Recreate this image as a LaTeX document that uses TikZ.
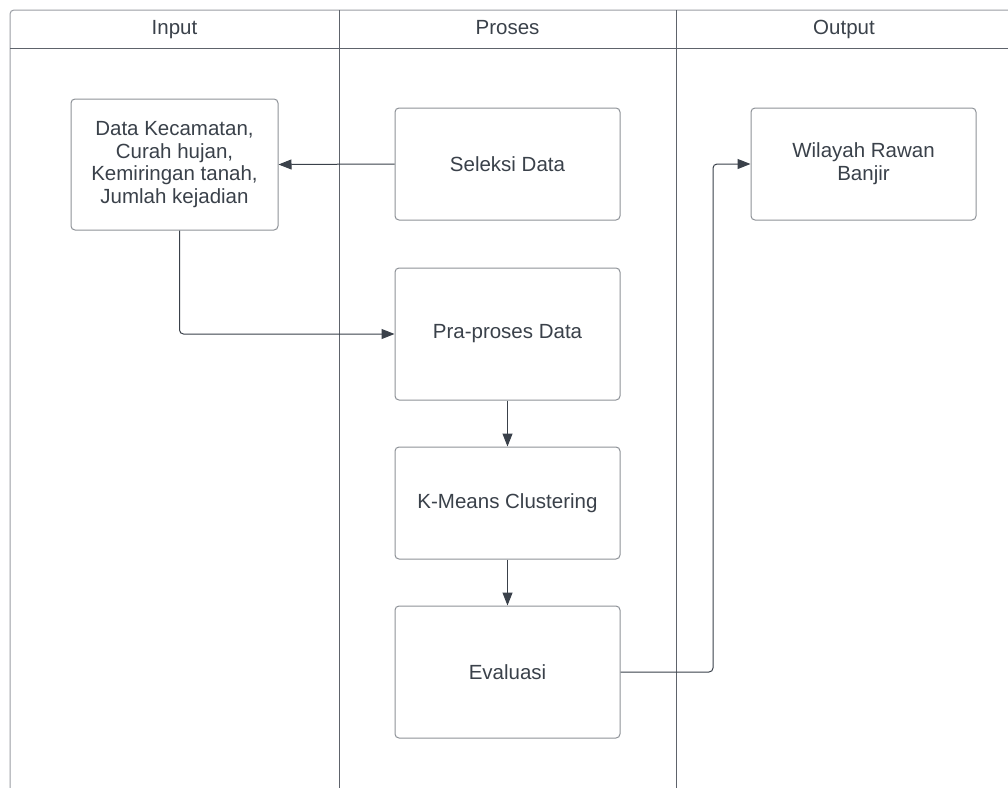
\documentclass[tikz,border=0pt]{standalone}
\usepackage{fontspec}
\setmainfont{Liberation Sans}
\usetikzlibrary{arrows.meta}
\definecolor{txt}{HTML}{3A414A}
\definecolor{boxline}{HTML}{8E9298}
\definecolor{lane}{HTML}{5E636B}
\definecolor{frameline}{HTML}{9A9EA4}
\begin{document}
\begin{tikzpicture}[x=1pt,y=-1pt,
  lbl/.style={font=\fontsize{20.5}{23}\selectfont, text=txt, anchor=base, inner sep=0pt},
  proc/.style={draw=boxline, line width=1pt, rounded corners=4pt, fill=white,
    text=txt, align=center, font=\fontsize{20.5}{22.8}\selectfont, inner sep=0pt},
  arr/.style={draw=txt, line width=1pt, -{Triangle[length=13pt,width=10pt]}}]
\useasboundingbox (0,0) rectangle (1008,787);
\clip (0,0) rectangle (1008,787);
\fill[white] (0,0) rectangle (1008,787);
% swimlane frame
\draw[frameline, line width=1pt, rounded corners=4pt] (1030,10) -- (10,10) -- (10,800);
\draw[lane, line width=1pt] (10,48) -- (1030,48);
\draw[lane, line width=1pt] (339,10) -- (339,800);
\draw[lane, line width=1pt] (676,10) -- (676,800);
\node[lbl] (hin) at (174.5,34) {Input};
\node[lbl] (hpr) at (507.5,34) {Proses};
\node[lbl] (hout) at (844,34) {Output};
% boxes
\node[proc, minimum width=207pt, minimum height=131pt] (data) at (174.5,164.5)
  {Data Kecamatan,\\Curah hujan,\\Kemiringan tanah,\\Jumlah kejadian};
\node[proc, minimum width=225pt, minimum height=112pt] (sel) at (507.5,164) {Seleksi Data};
\node[proc, minimum width=225pt, minimum height=132pt] (pra) at (507.5,334) {Pra-proses Data};
\node[proc, minimum width=225pt, minimum height=112pt] (km) at (507.5,503) {K-Means Clustering};
\node[proc, minimum width=225pt, minimum height=132pt] (ev) at (507.5,672) {Evaluasi};
\node[proc, minimum width=225pt, minimum height=112pt] (wil) at (863.5,164) {Wilayah Rawan\\Banjir};
% connectors
\coordinate (bend) at (713,0);
\draw[arr] (sel.west) -- (data.east);
\draw[arr, rounded corners=4pt] ([xshift=5pt]data.south) |- (pra.west);
\draw[arr] (pra.south) -- (km.north);
\draw[arr] (km.south) -- (ev.north);
\draw[arr, rounded corners=4pt] (ev.east) -- (ev.east -| bend) |- (wil.west);
\end{tikzpicture}
\end{document}
